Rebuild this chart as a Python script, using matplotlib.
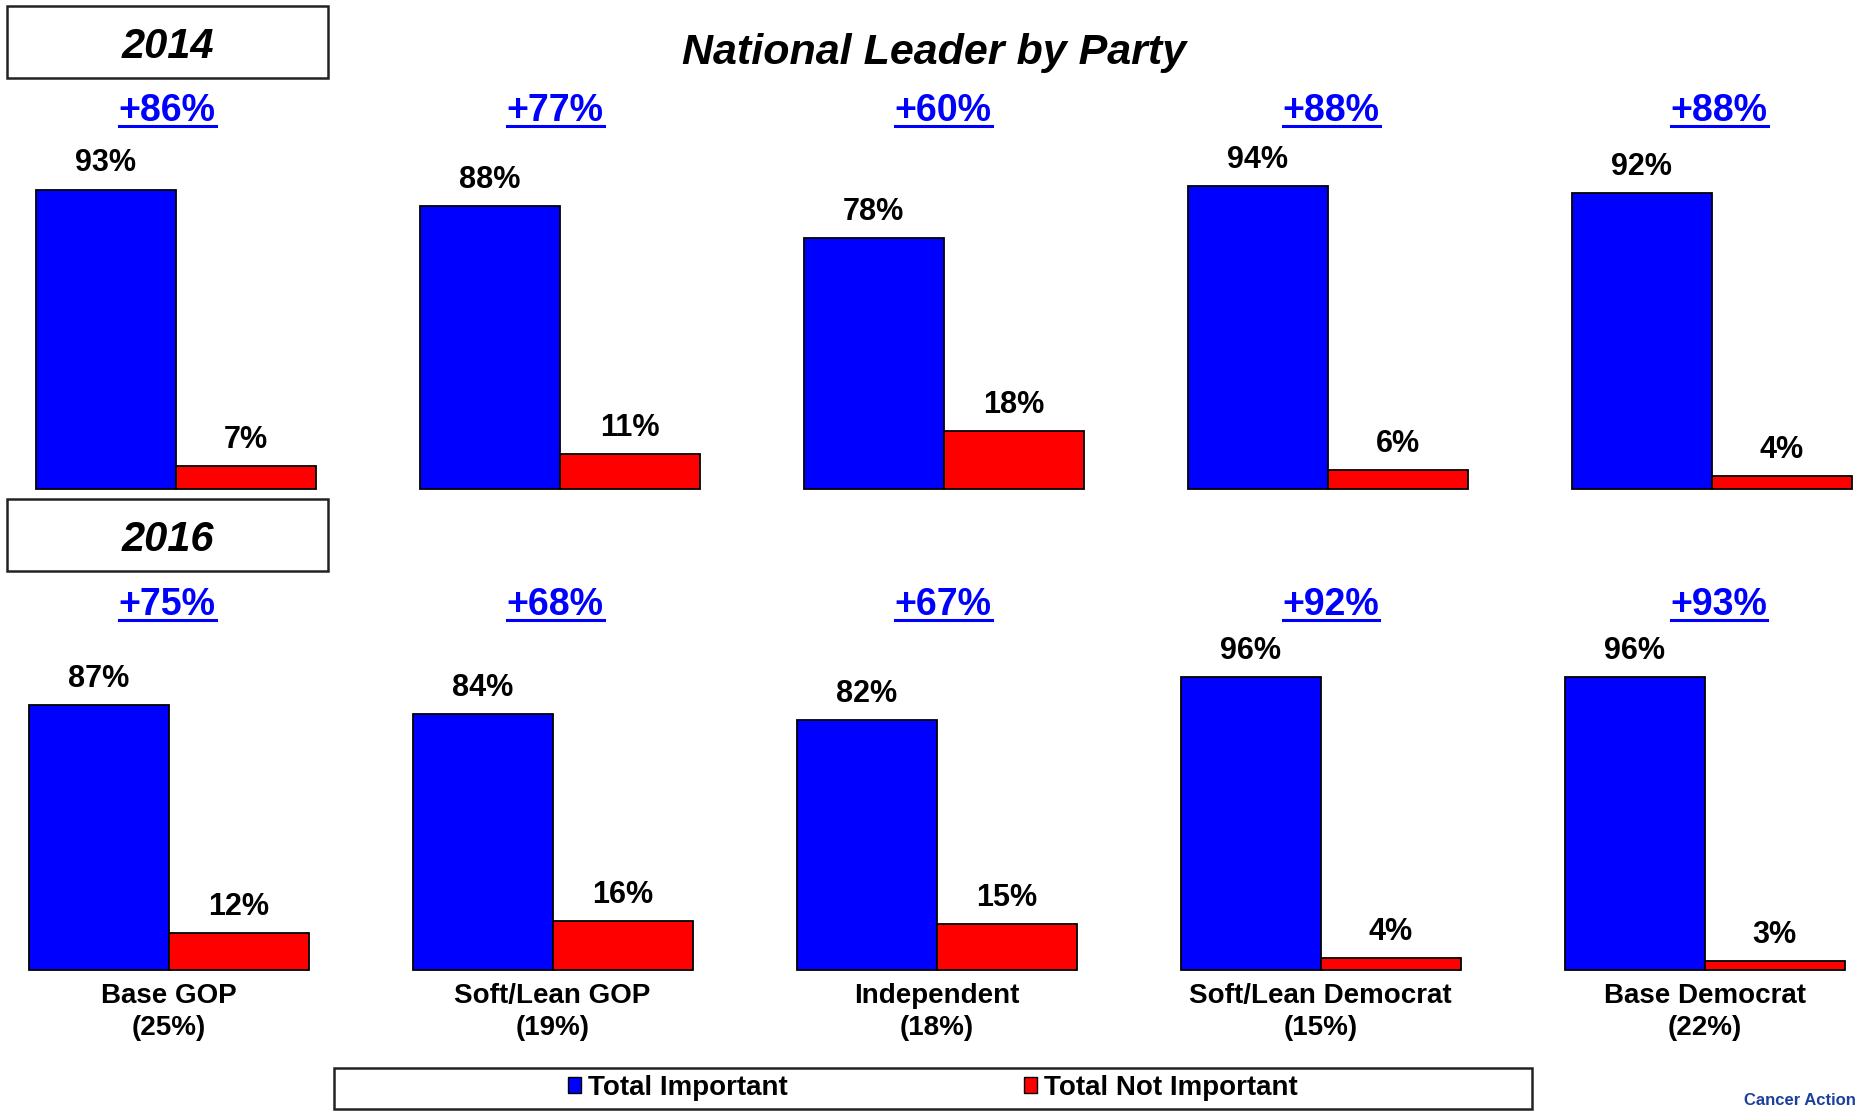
import matplotlib
matplotlib.use('Agg')
import matplotlib.pyplot as plt
from matplotlib.lines import Line2D
from matplotlib.patches import Rectangle, Patch

plt.rcParams['font.family'] = ['Liberation Sans', 'DejaVu Sans']
plt.rcParams['font.weight'] = 'bold'

W, H = 1860, 1111  # output size in pixels (dpi 100)

categories = ['Base GOP', 'Soft/Lean GOP', 'Independent', 'Soft/Lean Democrat', 'Base Democrat']
shares = ['(25%)', '(19%)', '(18%)', '(15%)', '(22%)']
imp_2014 = [93, 88, 78, 94, 92]
not_2014 = [7, 11, 18, 6, 4]
imp_2016 = [87, 84, 82, 96, 96]
not_2016 = [12, 16, 15, 4, 3]

BLUE = '#0000FF'
RED = '#FF0000'
SPACING = 384          # px between groups
BAR_W = 140 / SPACING  # bar width in group units

fig = plt.figure(figsize=(W / 100, H / 100), dpi=100, facecolor='white')

# year, values, bar baseline px, px per 100%, first group centre px, box top/bottom px, diff baseline px
rows = [
    ('2014', imp_2014, not_2014, 489, 322, 175.5, 6, 78, 121),
    ('2016', imp_2016, not_2016, 970, 305, 168.5, 499, 571, 615),
]

diff_texts = []
for year, imp, nimp, base, scale, x0, btop, bbot, dbase in rows:
    ax = fig.add_axes([0, (H - base) / H, 1, scale / H])
    ax.set_xlim(-x0 / SPACING, (W - x0) / SPACING)
    ax.set_ylim(0, 100)
    ax.axis('off')
    x = list(range(len(imp)))
    ax.bar([i - BAR_W / 2 for i in x], imp, BAR_W, color=BLUE, edgecolor='black', lw=1.3, clip_on=False)
    ax.bar([i + BAR_W / 2 for i in x], nimp, BAR_W, color=RED, edgecolor='black', lw=1.3, clip_on=False)
    for i in x:
        ax.annotate(f'{imp[i]}%', (i - BAR_W / 2, imp[i]), xytext=(0, 13), textcoords='offset points',
                    ha='center', va='baseline', fontsize=22, annotation_clip=False)
        ax.annotate(f'{nimp[i]}%', (i + BAR_W / 2, nimp[i]), xytext=(0, 13), textcoords='offset points',
                    ha='center', va='baseline', fontsize=22, annotation_clip=False)
        t = fig.text((167 + 388 * i) / W, 1 - dbase / H, f'+{imp[i] - nimp[i]}%', color=BLUE,
                     fontsize=27, ha='center', va='baseline')
        diff_texts.append(t)

    # year box
    fig.add_artist(Rectangle((7 / W, 1 - bbot / H), 321 / W, (bbot - btop) / H,
                             transform=fig.transFigure, fill=False, ec='#222222', lw=1.8))
    fig.text(167.5 / W, 1 - (btop + 52) / H, year, fontsize=30, style='italic',
             ha='center', va='baseline')

    if year == '2016':
        for i, (c, s) in enumerate(zip(categories, shares)):
            xf = (x0 + SPACING * i) / W
            fig.text(xf, 1 - 1003 / H, c, fontsize=20, ha='center', va='baseline')
            fig.text(xf, 1 - 1035 / H, s, fontsize=20, ha='center', va='baseline')

fig.text(934 / W, 1 - 64 / H, 'National Leader by Party', fontsize=31, style='italic',
         ha='center', va='baseline')

# legend
fig.add_artist(Rectangle((334 / W, 1 - 1109 / H), (1532 - 334) / W, 41 / H,
                         transform=fig.transFigure, fill=False, ec='#222222', lw=1.8))
handles = [Patch(facecolor=BLUE, edgecolor='black'), Patch(facecolor=RED, edgecolor='black')]
fig.legend(handles, ['Total Important', 'Total Not Important'], loc='center',
           bbox_to_anchor=(933 / W, 1 - 1088 / H), ncol=2, frameon=False, fontsize=20,
           handlelength=0.47, handleheight=0.47, handletextpad=0.25, columnspacing=8.5)

fig.text(1856 / W, 1 - 1108 / H, 'Cancer Action', color='#1c3f9e', fontsize=12,
         ha='right', va='bottom')

# underline the gap labels
fig.canvas.draw()
renderer = fig.canvas.get_renderer()
for t in diff_texts:
    bb = t.get_window_extent(renderer)
    xt, yt = t.get_position()
    y = yt - 5 / H
    fig.add_artist(Line2D([bb.x0 / W, bb.x1 / W], [y, y], transform=fig.transFigure,
                          color=BLUE, lw=2.2))

fig.savefig('out.png', dpi=100, facecolor='white')
